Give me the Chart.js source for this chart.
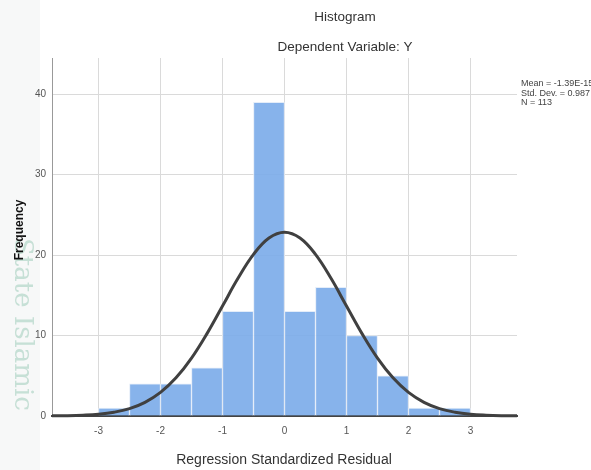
<!DOCTYPE html>
<html>
<head>
<meta charset="utf-8">
<title>Histogram</title>
<script src="https://cdn.jsdelivr.net/npm/chart.js@4.4.1/dist/chart.umd.min.js"></script>
<style>
  html, body { margin: 0; padding: 0; background: #fff; }
  #wrap { position: relative; width: 591px; height: 470px; }
</style>
</head>
<body>
<div id="wrap"><canvas id="hist" width="591" height="470"></canvas></div>
<script>
/* ---- data ---- */
const binCenters  = [-2.75, -2.25, -1.75, -1.25, -0.75, -0.25, 0.25, 0.75, 1.25, 1.75, 2.25, 2.75];
const frequencies = [1, 4, 4, 6, 13, 39, 13, 16, 10, 5, 1, 1];

// normal curve, read at quarter steps
const curveX = [-3.75, -3.5, -3.25, -3, -2.75, -2.5, -2.25, -2, -1.75, -1.5, -1.25, -1, -0.75, -0.5, -0.25,
                0, 0.25, 0.5, 0.75, 1, 1.25, 1.5, 1.75, 2, 2.25, 2.5, 2.75, 3, 3.25, 3.5, 3.75];
const curveY = [0.02, 0.04, 0.1, 0.22, 0.47, 0.92, 1.7, 2.93, 4.74, 7.19, 10.24, 13.67, 17.11, 20.09, 22.12,
                22.84, 22.12, 20.09, 17.11, 13.67, 10.24, 7.19, 4.74, 2.93, 1.7, 0.92, 0.47, 0.22, 0.1, 0.04, 0.02];

const xTicks = [-3, -2, -1, 0, 1, 2, 3];
const yTicks = [0, 10, 20, 30, 40];

const chartTitle = 'Histogram';
const chartSubtitle = 'Dependent Variable: Y';
const xTitle = 'Regression Standardized Residual';
const yTitle = 'Frequency';
const statsLines = ['Mean = -1.39E-15', 'Std. Dev. = 0.987', 'N = 113'];

const FONT = '"Liberation Sans", Arial, sans-serif';

// background + watermark, then the text labels on top
const decorations = {
  id: 'decorations',
  beforeDraw(chart) {
    const c = chart.ctx;
    c.save();
    c.fillStyle = '#fff';
    c.fillRect(0, 0, chart.width, chart.height);
    c.fillStyle = '#f7f8f8';
    c.fillRect(0, 0, 40, chart.height);
    c.translate(12, 238);
    c.rotate(Math.PI / 2);
    c.fillStyle = 'rgba(150, 200, 180, 0.5)';
    c.font = '26px "DejaVu Serif", serif';
    c.textBaseline = 'middle';
    c.fillText('State Islamic', 0, -10);
    c.restore();
  },
  afterDraw(chart) {
    const c = chart.ctx;
    c.save();
    c.fillStyle = '#333';
    c.textAlign = 'center';
    c.textBaseline = 'middle';
    c.font = '13.5px ' + FONT;
    c.fillText(chartTitle, 345, 17);
    c.fillText(chartSubtitle, 345, 47);
    c.font = '14px ' + FONT;
    c.fillText(xTitle, 284, 460);

    c.save();
    c.translate(20, 230);
    c.rotate(-Math.PI / 2);
    c.fillStyle = '#111';
    c.font = 'bold 12px ' + FONT;
    c.fillText(yTitle, 0, 0);
    c.restore();

    c.textAlign = 'left';
    c.fillStyle = '#444';
    c.font = '9px ' + FONT;
    statsLines.forEach((t, i) => c.fillText(t, 521, 84 + i * 9.5));
    c.restore();
  }
};

new Chart(document.getElementById('hist'), {
  data: {
    datasets: [
      {
        type: 'line',
        order: 0,
        data: curveX.map((x, i) => ({ x, y: curveY[i] })),
        borderColor: '#404040',
        borderWidth: 3,
        pointRadius: 0,
        tension: 0.4,
        clip: 4,
      },
      {
        type: 'bar',
        order: 1,
        data: binCenters.map((x, i) => ({ x, y: frequencies[i] })),
        backgroundColor: 'rgba(122, 171, 233, 0.9)',
        borderColor: 'rgba(225, 235, 248, 0.9)',
        borderWidth: 1,
        barPercentage: 1,
        categoryPercentage: 1,
        grouped: false,
      },
    ],
  },
  options: {
    responsive: false,
    animation: false,
    layout: { padding: { top: 58, right: 74, left: 0, bottom: 0 } },
    plugins: {
      legend: { display: false },
      tooltip: { enabled: false },
    },
    scales: {
      x: {
        type: 'linear',
        offset: false,
        min: -3.75,
        max: 3.75,
        afterBuildTicks: (s) => { s.ticks = xTicks.map((v) => ({ value: v })); },
        afterFit: (s) => { s.height = 54; },
        grid: { color: '#dadada', drawTicks: false, offset: false },
        border: { color: '#444', width: 2 },
        ticks: { color: '#555', font: { family: FONT, size: 10 }, padding: 9, maxRotation: 0 },
      },
      y: {
        min: 0,
        max: 44.5,
        afterBuildTicks: (s) => { s.ticks = yTicks.map((v) => ({ value: v })); },
        afterFit: (s) => { s.width = 52; },
        grid: { color: '#dadada', drawTicks: false },
        border: { color: '#999', width: 1 },
        ticks: { color: '#555', font: { family: FONT, size: 10 }, padding: 6 },
      },
    },
  },
  plugins: [decorations],
});
</script>
</body>
</html>
